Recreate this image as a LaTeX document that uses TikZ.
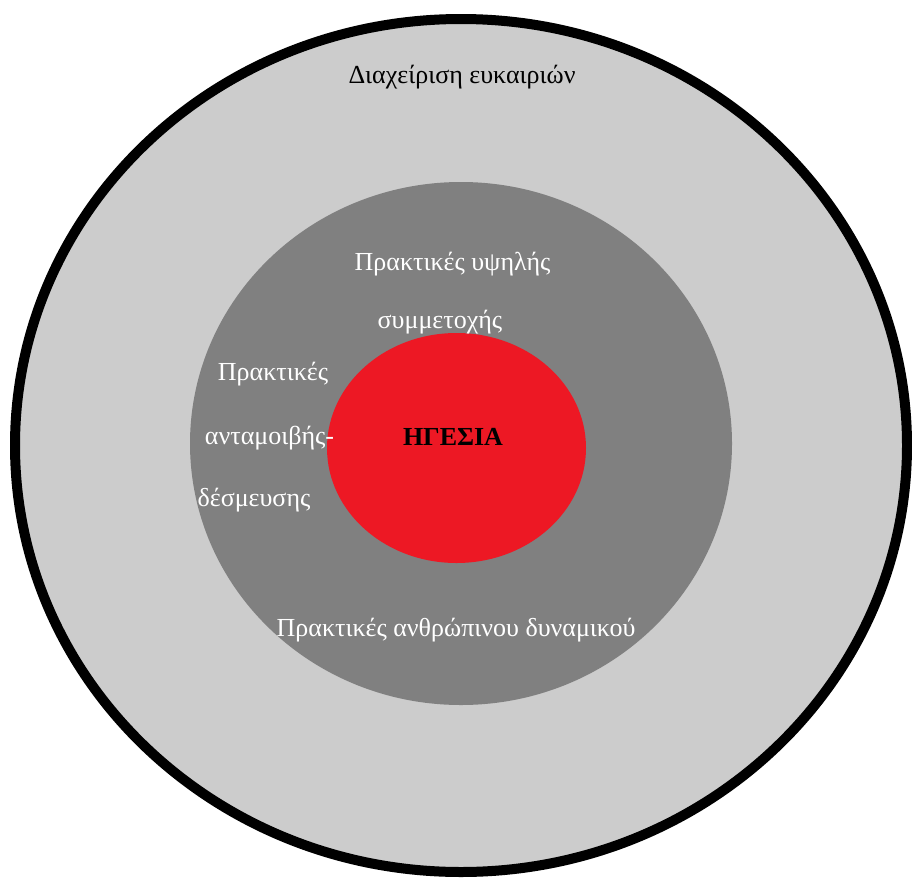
\documentclass[tikz,border=0pt]{standalone}
\usepackage{fontspec}
\setmainfont{Liberation Serif}
\definecolor{ringlight}{RGB}{204,204,204}
\definecolor{ringmid}{RGB}{128,128,128}
\definecolor{corered}{RGB}{237,24,36}
\begin{document}
\begin{tikzpicture}[x=1pt,y=-1pt,
  label/.style={font=\fontsize{26}{30}\selectfont, inner sep=0pt, anchor=base},
  whitelabel/.style={label, text=white},
  blacklabel/.style={label, text=black}]
  \useasboundingbox (0,0) rectangle (912,878);
  % three nested rings
  \fill[ringlight] (461,445.5) ellipse [x radius=446, y radius=426.5];
  \draw[black, line width=10pt] (461,445.5) ellipse [x radius=446, y radius=426.5];
  \fill[ringmid] (461,443.5) ellipse [x radius=271, y radius=261.5];
  \fill[corered] (456.5,448) ellipse [x radius=129.5, y radius=115];
  % ring labels
  \node[blacklabel] (opp) at (462,83) {Διαχείριση ευκαιριών};
  \node[whitelabel] (high1) at (452.5,270) {Πρακτικές υψηλής};
  \node[whitelabel] (high2) at (440,328) {συμμετοχής};
  \node[whitelabel] (rew1) at (273,380) {Πρακτικές};
  \node[whitelabel] (rew2) at (269.5,444) {ανταμοιβής-};
  \node[whitelabel] (rew3) at (254,506) {δέσμευσης};
  \node[whitelabel] (hr) at (456,636) {Πρακτικές ανθρώπινου δυναμικού};
  \node[blacklabel, font=\fontsize{26}{30}\selectfont\bfseries] (lead) at (453,445) {ΗΓΕΣΙΑ};
\end{tikzpicture}
\end{document}
